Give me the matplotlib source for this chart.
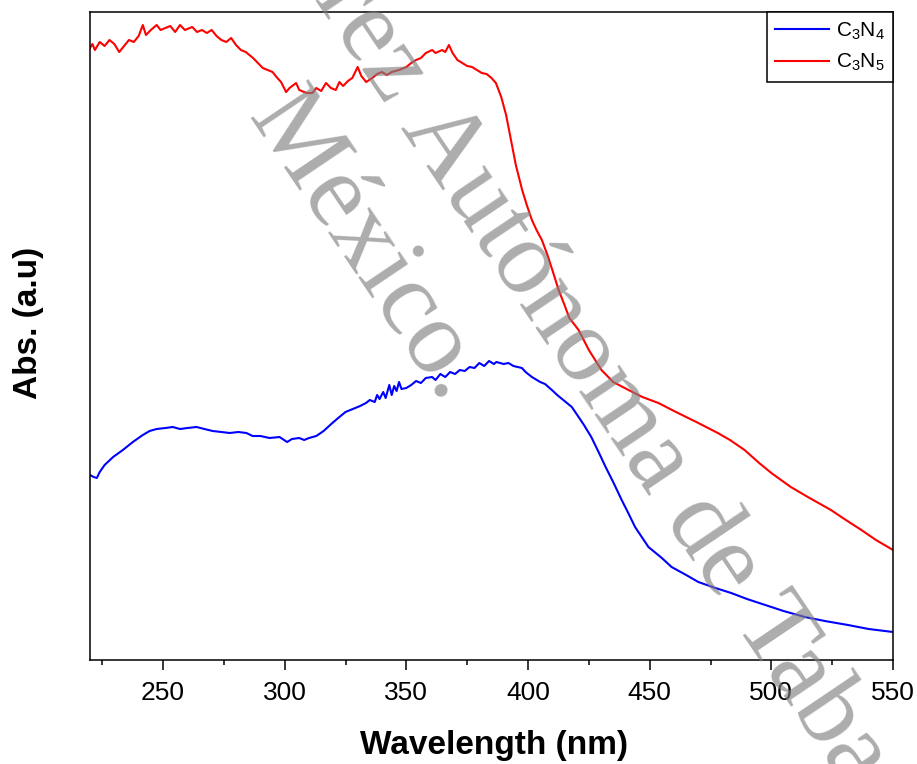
import matplotlib
matplotlib.use("Agg")
import matplotlib.pyplot as plt

plt.rcParams['font.family'] = ['Liberation Sans', 'DejaVu Sans']
plt.rcParams['mathtext.fontset'] = 'custom'
plt.rcParams['mathtext.rm'] = 'Liberation Sans'
plt.rcParams['mathtext.default'] = 'regular'

# C3N4 spectrum (wavelength nm, abs a.u.)
wl_c3n4 = [220, 221.5, 222.8, 224, 226, 229.5, 233.5, 237.6, 241.7, 244.5, 247.4, 251, 254, 257, 260,
           263.8, 267, 270.4, 274, 277.4, 281, 284.3, 286.8, 290, 293.8, 297.9, 301, 303, 306, 308,
           310, 313, 316, 319.6, 322, 325, 328, 331, 333.4, 335, 337, 338, 339, 340.5, 341.5, 343,
           344, 345, 346, 347, 348, 350, 352, 354, 356, 358, 360.6, 362, 364, 366, 368, 370, 372,
           374, 376, 378, 380, 382, 384, 386, 387, 390, 392, 394, 397.5, 399, 401.6, 405, 407, 409.8,
           412, 415.5, 418, 420.8, 423, 426, 429, 431.9, 435, 438.5, 441, 444, 449.5, 455, 459, 465,
           470, 477, 483.5, 490, 497.5, 505, 513.8, 522, 531.5, 540, 550]
abs_c3n4 = [1.85, 1.83, 1.82, 1.88, 1.95, 2.03, 2.10, 2.18, 2.25, 2.29, 2.31, 2.32, 2.33, 2.31, 2.32,
            2.33, 2.31, 2.29, 2.28, 2.27, 2.28, 2.27, 2.24, 2.24, 2.22, 2.23, 2.18, 2.21, 2.22, 2.20,
            2.22, 2.24, 2.29, 2.37, 2.42, 2.48, 2.51, 2.54, 2.57, 2.60, 2.58, 2.65, 2.61, 2.68, 2.62, 2.75,
            2.65, 2.74, 2.69, 2.78, 2.71, 2.72, 2.75, 2.79, 2.77, 2.82, 2.83, 2.80, 2.86, 2.83, 2.88, 2.86, 2.90,
            2.89, 2.93, 2.92, 2.97, 2.94, 2.99, 2.96, 2.98, 2.96, 2.97, 2.94, 2.92, 2.88, 2.83, 2.78, 2.76, 2.70,
            2.65, 2.58, 2.53, 2.43, 2.35, 2.23, 2.08, 1.93, 1.78, 1.60, 1.48, 1.33, 1.13, 1.02, 0.93, 0.85,
            0.78, 0.72, 0.67, 0.61, 0.55, 0.49, 0.43, 0.39, 0.35, 0.31, 0.28]

# C3N5 spectrum
wl_c3n5 = [220, 221, 222, 224, 226, 228, 230, 232, 234, 236, 238, 240, 241.7, 243, 245, 247.4, 249, 251,
           253, 255, 257, 259, 262, 264, 266, 268, 270, 272, 274, 276, 278, 280, 282, 284, 287, 289, 291,
           293, 295, 297, 298.5, 300.6, 302, 304.7, 306, 309, 311.4, 313, 315, 317, 319, 321, 322.5, 324,
           326, 327.8, 330, 331.5, 333.5, 336, 338, 340, 342, 344, 347, 350, 352, 354, 356, 358, 360.6,
           362, 364.7, 366, 367.5, 369, 371, 373, 375, 377, 379, 381, 383, 385, 386.8, 389, 391, 393, 395,
           397.6, 399.5, 401.6, 403.5, 405.7, 408, 410, 412.6, 415, 417, 420.8, 425, 430.2, 435, 441.3,
           447, 453.6, 460, 465, 470, 478, 483, 489, 495, 500, 508, 515, 524.5, 530, 537, 543, 550]
abs_c3n5 = [6.12, 6.16, 6.10, 6.18, 6.14, 6.20, 6.16, 6.08, 6.14, 6.20, 6.18, 6.24, 6.35, 6.25, 6.30, 6.35, 6.30, 6.32,
            6.34, 6.28, 6.35, 6.30, 6.33, 6.28, 6.30, 6.27, 6.30, 6.24, 6.20, 6.18, 6.22, 6.15, 6.10, 6.08, 6.02, 5.97, 5.92,
            5.90, 5.88, 5.82, 5.78, 5.68, 5.72, 5.77, 5.70, 5.67, 5.67, 5.72, 5.69, 5.77, 5.72, 5.70, 5.78, 5.74,
            5.79, 5.82, 5.93, 5.84, 5.78, 5.82, 5.86, 5.88, 5.85, 5.88, 5.90, 5.93, 5.97, 6.00, 6.02, 6.07, 6.10,
            6.07, 6.10, 6.08, 6.15, 6.07, 6.00, 5.97, 5.94, 5.93, 5.90, 5.87, 5.86, 5.82, 5.77, 5.63, 5.45, 5.20, 4.95,
            4.70, 4.55, 4.40, 4.30, 4.20, 4.05, 3.90, 3.70, 3.55, 3.42, 3.30, 3.10, 2.90, 2.78, 2.70,
            2.63, 2.57, 2.49, 2.43, 2.37, 2.27, 2.20, 2.10, 1.97, 1.87, 1.73, 1.63, 1.50, 1.41, 1.30, 1.20, 1.10]

fig = plt.figure(figsize=(9.17, 7.64), dpi=100)
ax = fig.add_axes([90 / 917, 104 / 764, 803 / 917, 648 / 764])

ax.plot(wl_c3n4, abs_c3n4, color='#0000ff', lw=1.5, label=r'C$_3$N$_4$')
ax.plot(wl_c3n5, abs_c3n5, color='#ff0000', lw=1.5, label=r'C$_3$N$_5$')

ax.set_xlim(220, 550)
ax.set_ylim(0, 6.48)
ax.set_xticks([250, 300, 350, 400, 450, 500, 550])
ax.set_xticks(range(225, 551, 50), minor=True)
ax.set_yticks([])
ax.tick_params(axis='x', which='major', direction='out', length=7, width=1.1, labelsize=19, pad=8)
ax.tick_params(axis='x', which='minor', direction='out', length=3.5, width=1.1)
for s in ax.spines.values():
    s.set_linewidth(1.1)

ax.set_xlabel('Wavelength (nm)', fontsize=24, fontweight='bold')
ax.xaxis.set_label_coords(0.503, -0.108)
ax.set_ylabel('Abs. (a.u)', fontsize=24, fontweight='bold')
ax.yaxis.set_label_coords(-0.057, 0.52)

leg = ax.legend(loc='upper right', fontsize=15, frameon=True, fancybox=False, edgecolor='black',
                borderaxespad=0, handlelength=2.6, borderpad=0.4, labelspacing=0.5, handletextpad=0.3)
leg.get_frame().set_linewidth(1.1)
leg.get_frame().set_alpha(1)

# thesis watermark
wm = dict(family='Liberation Serif', fontsize=76, color='#808080', alpha=0.65, rotation=-56,
          rotation_mode='anchor', va='baseline', zorder=5, transform=fig.transFigure, clip_on=False)
ax.text(386 / 917, 1 - 105 / 764, 'Universidad Juárez', ha='right', **wm)
ax.text(400 / 917, 1 - 127 / 764, 'Autónoma de Tabasco', ha='left', **wm)
ax.text(247 / 917, 1 - 117 / 764, 'México.', ha='left', **wm)

fig.savefig('out.png', dpi=100)
